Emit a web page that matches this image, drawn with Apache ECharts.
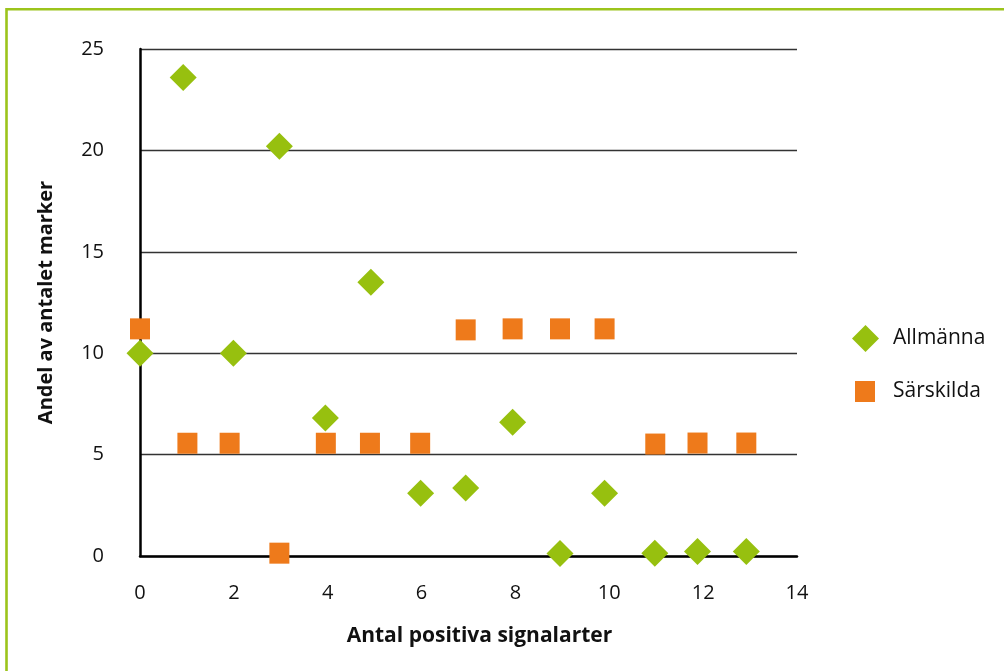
<!DOCTYPE html>
<html>
<head>
<meta charset="utf-8">
<script src="https://cdn.jsdelivr.net/npm/echarts@6/dist/echarts.min.js"></script>
<style>
  html, body { margin: 0; padding: 0; background: #ffffff; }
  #chart { width: 1004px; height: 671px; }
</style>
</head>
<body>
<div id="chart"></div>
<script>
// Andel av antalet marker per antal positiva signalarter
const seriesNames = ['Allmänna', 'Särskilda'];

const allmannaX = [0, 0.92, 1.99, 2.97, 3.95, 4.92, 5.98, 6.94, 7.94, 8.95, 9.9, 10.97, 11.88, 12.92];
const allmannaY = [10, 23.6, 10, 20.2, 6.8, 13.5, 3.1, 3.35, 6.6, 0.12, 3.1, 0.14, 0.22, 0.22];

const sarskildaX = [0, 1.01, 1.91, 2.97, 3.96, 4.9, 5.97, 6.94, 7.94, 8.95, 9.9, 10.98, 11.88, 12.92];
const sarskildaY = [11.2, 5.56, 5.56, 0.14, 5.56, 5.56, 5.56, 11.15, 11.2, 11.2, 11.2, 5.52, 5.57, 5.57];

const xTicks = [0, 2, 4, 6, 8, 10, 12, 14];
const yTicks = [0, 5, 10, 15, 20, 25];

const xTitle = 'Antal positiva signalarter';
const yTitle = 'Andel av antalet marker';

const green = '#97C00F';
const orange = '#EE7A1B';
const frame = '#9CC41C';
const font = '"Open Sans", "Noto Sans", sans-serif';

function pairs(xs, ys) {
  return xs.map((x, i) => [x, ys[i]]);
}

const chart = echarts.init(document.getElementById('chart'), null, { renderer: 'canvas' });

chart.setOption({
  animation: false,
  backgroundColor: '#ffffff',
  textStyle: { fontFamily: font },
  grid: { left: 140, right: 207, top: 49, bottom: 115, containLabel: false },
  xAxis: {
    type: 'value',
    min: xTicks[0],
    max: xTicks[xTicks.length - 1],
    interval: xTicks[1] - xTicks[0],
    axisLine: { show: true, onZero: false, lineStyle: { color: '#000', width: 2.5 } },
    axisTick: { show: false },
    splitLine: { show: false },
    axisLabel: { color: '#111', fontSize: 20, fontFamily: font, margin: 27 },
    name: xTitle,
    nameLocation: 'middle',
    nameGap: 70,
    nameTextStyle: {
      color: '#111', fontSize: 21, fontWeight: 'bold', fontFamily: font,
      padding: [0, 0, 0, 22]
    }
  },
  yAxis: {
    type: 'value',
    min: yTicks[0],
    max: yTicks[yTicks.length - 1],
    interval: yTicks[1] - yTicks[0],
    axisLine: { show: true, onZero: false, lineStyle: { color: '#000', width: 2.5 } },
    axisTick: { show: false },
    splitLine: { show: true, lineStyle: { color: '#333', width: 1.3 } },
    axisLabel: { color: '#111', fontSize: 20, fontFamily: font, margin: 36 },
    name: yTitle,
    nameLocation: 'middle',
    nameRotate: 90,
    nameGap: 84,
    nameTextStyle: { color: '#111', fontSize: 20, fontWeight: 'bold', fontFamily: font }
  },
  legend: [
    {
      data: [{ name: seriesNames[0], icon: 'diamond' }],
      left: 852, top: 325, padding: 0,
      itemWidth: 27, itemHeight: 27,
      textStyle: { color: '#111', fontSize: 21, fontFamily: font, padding: [0, 0, 0, 9] }
    },
    {
      data: [{ name: seriesNames[1], icon: 'rect' }],
      left: 855, top: 381, padding: 0,
      itemWidth: 20, itemHeight: 21,
      textStyle: { color: '#111', fontSize: 21, fontFamily: font, padding: [10, 0, 0, 13] }
    }
  ],
  graphic: [
    {
      type: 'rect',
      silent: true,
      shape: { x: 6.5, y: 9.3, width: 1200, height: 1000 },
      style: { fill: 'none', stroke: frame, lineWidth: 2.6 }
    }
  ],
  series: [
    {
      name: seriesNames[0],
      type: 'scatter',
      symbol: 'diamond',
      symbolSize: 27,
      itemStyle: { color: green, opacity: 1 },
      clip: false,
      data: pairs(allmannaX, allmannaY),
      z: 3
    },
    {
      name: seriesNames[1],
      type: 'scatter',
      symbol: 'rect',
      symbolSize: [20, 21],
      itemStyle: { color: orange, opacity: 1 },
      clip: false,
      data: pairs(sarskildaX, sarskildaY),
      z: 4
    }
  ]
});
</script>
</body>
</html>
